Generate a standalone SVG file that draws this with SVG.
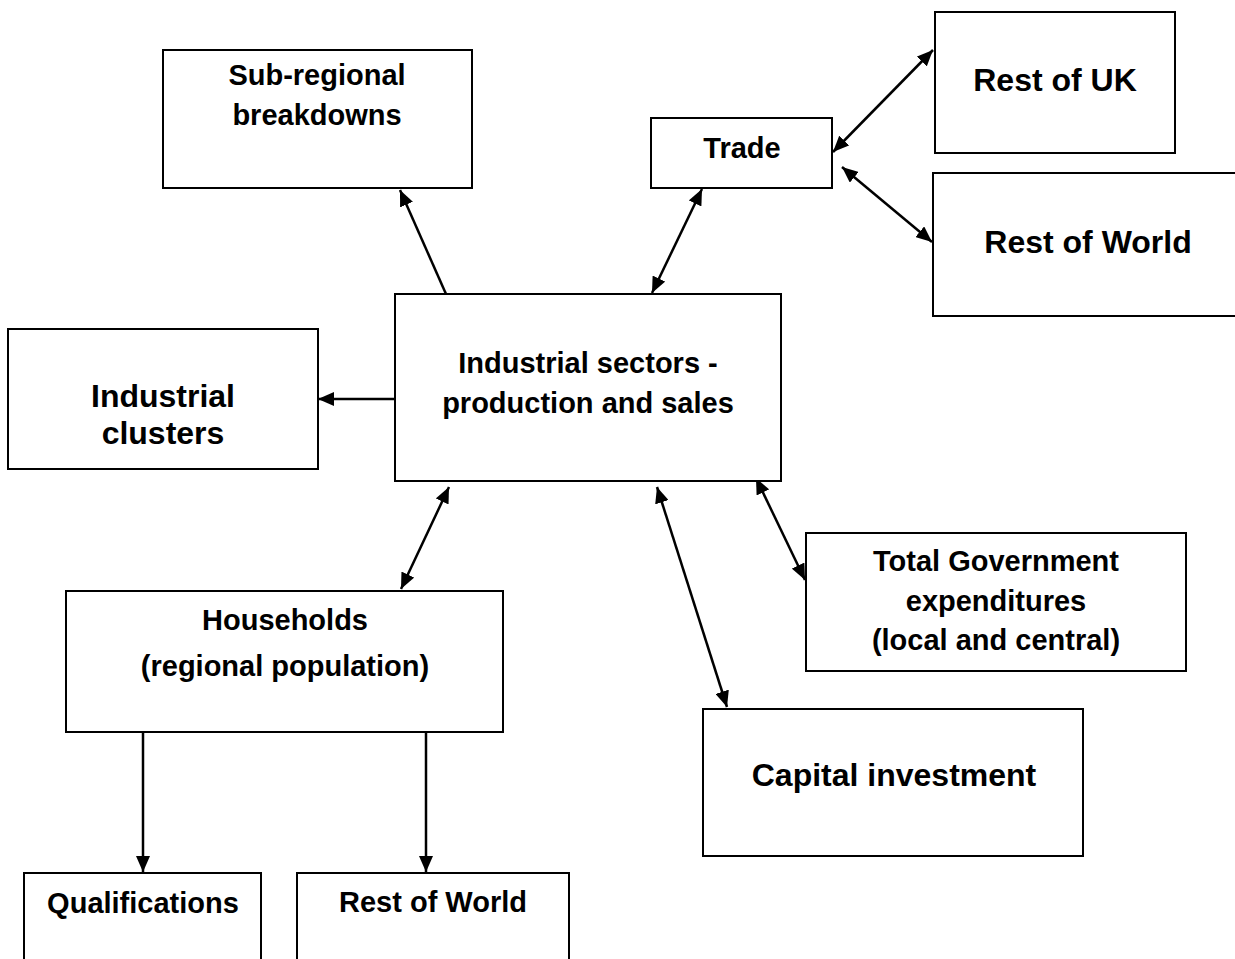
<svg xmlns="http://www.w3.org/2000/svg" width="1235" height="959" viewBox="0 0 1235 959">
  <style>
    .box { fill: #ffffff; stroke: #000000; stroke-width: 2; }
    .t { font-family: "Liberation Sans", Arial, sans-serif; font-weight: bold; fill: #000000; text-anchor: middle; }
    .m { font-size: 29px; }
    .l { font-size: 32px; }
    .c { stroke: #000000; stroke-width: 2.5; fill: none; }
  </style>
  <defs>
    <marker id="head" viewBox="0 0 16 14" refX="16" refY="7" markerWidth="16" markerHeight="14" markerUnits="userSpaceOnUse" orient="auto-start-reverse">
      <path d="M0,0 L16,7 L0,14 z" fill="#000000"/>
    </marker>
  </defs>

  <rect width="1235" height="959" fill="#ffffff"/>

  <g id="connectors">
    <line class="c" x1="446" y1="294" x2="400" y2="190" marker-end="url(#head)"/>
    <line class="c" x1="652" y1="293" x2="702" y2="189" marker-start="url(#head)" marker-end="url(#head)"/>
    <line class="c" x1="833" y1="152" x2="933" y2="50" marker-start="url(#head)" marker-end="url(#head)"/>
    <line class="c" x1="842" y1="167" x2="932" y2="242" marker-start="url(#head)" marker-end="url(#head)"/>
    <line class="c" x1="394" y1="399" x2="318" y2="399" marker-end="url(#head)"/>
    <line class="c" x1="449" y1="487" x2="401" y2="589" marker-start="url(#head)" marker-end="url(#head)"/>
    <line class="c" x1="657" y1="487" x2="727" y2="707" marker-start="url(#head)" marker-end="url(#head)"/>
    <line class="c" x1="756" y1="478" x2="805" y2="580" marker-start="url(#head)" marker-end="url(#head)"/>
    <line class="c" x1="143" y1="732" x2="143" y2="872" marker-end="url(#head)"/>
    <line class="c" x1="426" y1="732" x2="426" y2="872" marker-end="url(#head)"/>
  </g>

  <g id="sub-regional">
    <rect class="box" x="163" y="50" width="309" height="138"/>
    <text class="t m" x="317" y="85">Sub-regional</text>
    <text class="t m" x="317" y="125">breakdowns</text>
  </g>

  <g id="trade">
    <rect class="box" x="651" y="118" width="181" height="70"/>
    <text class="t m" x="742" y="158">Trade</text>
  </g>

  <g id="rest-of-uk">
    <rect class="box" x="935" y="12" width="240" height="141"/>
    <text class="t l" x="1055" y="91">Rest of UK</text>
  </g>

  <g id="rest-of-world-trade">
    <rect class="box" x="933" y="173" width="310" height="143"/>
    <text class="t l" x="1088" y="253">Rest of World</text>
  </g>

  <g id="industrial-sectors">
    <rect class="box" x="395" y="294" width="386" height="187"/>
    <text class="t m" x="588" y="373">Industrial sectors -</text>
    <text class="t m" x="588" y="413">production and sales</text>
  </g>

  <g id="industrial-clusters">
    <rect class="box" x="8" y="329" width="310" height="140"/>
    <text class="t l" x="163" y="407">Industrial</text>
    <text class="t l" x="163" y="444">clusters</text>
  </g>

  <g id="government">
    <rect class="box" x="806" y="533" width="380" height="138"/>
    <text class="t m" x="996" y="571">Total Government</text>
    <text class="t m" x="996" y="611">expenditures</text>
    <text class="t m" x="996" y="650">(local and central)</text>
  </g>

  <g id="households">
    <rect class="box" x="66" y="591" width="437" height="141"/>
    <text class="t m" x="285" y="630">Households</text>
    <text class="t m" x="285" y="676">(regional population)</text>
  </g>

  <g id="capital-investment">
    <rect class="box" x="703" y="709" width="380" height="147"/>
    <text class="t l" x="894" y="786">Capital investment</text>
  </g>

  <g id="qualifications">
    <rect class="box" x="24" y="873" width="237" height="100"/>
    <text class="t m" x="143" y="913">Qualifications</text>
  </g>

  <g id="rest-of-world-households">
    <rect class="box" x="297" y="873" width="272" height="100"/>
    <text class="t m" x="433" y="912">Rest of World</text>
  </g>
</svg>
